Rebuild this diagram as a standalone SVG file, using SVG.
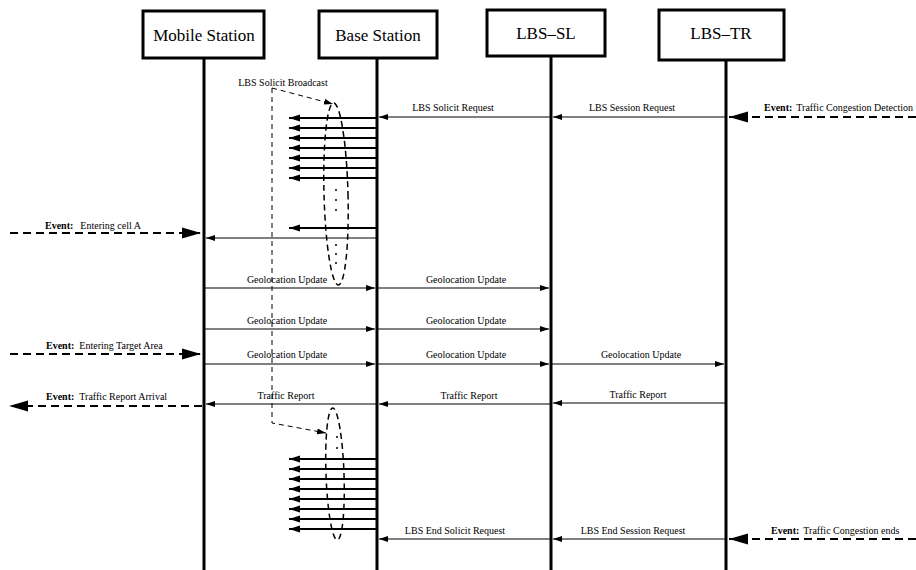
<svg xmlns="http://www.w3.org/2000/svg" width="916" height="570" viewBox="0 0 916 570">
<style>
.box{fill:#fff;stroke:#000;stroke-width:3}
.hdr{font-family:"Liberation Serif","Times New Roman","DejaVu Serif",serif;font-size:17px;text-anchor:middle}
.life{stroke:#000;stroke-width:3}
.msg{stroke:#000;stroke-width:1.2;fill:none}
.bc{stroke:#000;stroke-width:2;fill:none}
.ev{stroke:#000;stroke-width:2;stroke-dasharray:8 5;fill:none}
.cl{stroke:#000;stroke-width:1;stroke-dasharray:5 4;fill:none}
.ell{stroke:#000;stroke-width:1.5;stroke-dasharray:6 4;fill:none}
.lbl{font-family:"Liberation Serif","Times New Roman","DejaVu Serif",serif;font-size:10px;text-anchor:middle}
.evl{font-family:"Liberation Serif","Times New Roman","DejaVu Serif",serif;font-size:10px}
.b{font-weight:bold}
</style>
<defs>
<marker id="sm" markerUnits="userSpaceOnUse" markerWidth="10" markerHeight="8" refX="9" refY="4" orient="auto"><path d="M0,1 L9,4 L0,7 Z" fill="#000"/></marker>
<marker id="bcm" markerUnits="userSpaceOnUse" markerWidth="12" markerHeight="8" refX="11" refY="4" orient="auto"><path d="M0,0.5 L11,4 L0,7.5 Z" fill="#000"/></marker>
<marker id="big" markerUnits="userSpaceOnUse" markerWidth="20" markerHeight="12" refX="19" refY="6" orient="auto"><path d="M0,0.5 L19,6 L0,11.5 Z" fill="#000"/></marker>
</defs>

<g id="mobile-station"><rect class="box" x="143" y="11" width="121" height="47"/><text class="hdr" x="204" y="41">Mobile Station</text><line class="life" x1="204" y1="58" x2="204" y2="570"/></g>
<g id="base-station"><rect class="box" x="319" y="11" width="118" height="47"/><text class="hdr" x="378" y="41">Base Station</text><line class="life" x1="377" y1="58" x2="377" y2="570"/></g>
<g id="lbs-sl"><rect class="box" x="487" y="10" width="118" height="46"/><text class="hdr" x="546" y="39">LBS–SL</text><line class="life" x1="551" y1="56" x2="551" y2="570"/></g>
<g id="lbs-tr"><rect class="box" x="659" y="10" width="125" height="50"/><text class="hdr" x="721" y="39">LBS–TR</text><line class="life" x1="726" y1="60" x2="726" y2="570"/></g>

<g id="connectors">
<line class="msg" x1="726" y1="117" x2="553" y2="117" marker-end="url(#sm)"/>
<text class="lbl" x="632" y="111">LBS Session Request</text>
<line class="msg" x1="551" y1="117" x2="379" y2="117" marker-end="url(#sm)"/>
<text class="lbl" x="453" y="111">LBS Solicit Request</text>
<line class="ev" x1="916" y1="117" x2="729" y2="117" marker-end="url(#big)"/>
<text class="evl" x="764" y="111"><tspan class="b">Event:</tspan><tspan dx="4">Traffic Congestion Detection</tspan></text>

<line class="bc" x1="377" y1="118" x2="289" y2="118" marker-end="url(#bcm)"/>
<line class="bc" x1="377" y1="128" x2="289" y2="128" marker-end="url(#bcm)"/>
<line class="bc" x1="377" y1="138" x2="289" y2="138" marker-end="url(#bcm)"/>
<line class="bc" x1="377" y1="148" x2="289" y2="148" marker-end="url(#bcm)"/>
<line class="bc" x1="377" y1="158" x2="289" y2="158" marker-end="url(#bcm)"/>
<line class="bc" x1="377" y1="168" x2="289" y2="168" marker-end="url(#bcm)"/>
<line class="bc" x1="377" y1="178" x2="289" y2="178" marker-end="url(#bcm)"/>
<line class="bc" x1="377" y1="228" x2="289" y2="228" marker-end="url(#bcm)"/>
<ellipse class="ell" cx="336" cy="194" rx="12" ry="91" transform="rotate(-1.5 336 194)"/>
<circle cx="336" cy="190" r="1" fill="#000"/><circle cx="336" cy="200" r="1" fill="#000"/><circle cx="336" cy="210" r="1" fill="#000"/>
<circle cx="336" cy="245" r="1" fill="#000"/><circle cx="336" cy="254" r="1" fill="#000"/><circle cx="336" cy="263" r="1" fill="#000"/>

<text class="lbl" x="283" y="86">LBS Solicit Broadcast</text>
<line class="cl" x1="272" y1="88" x2="333" y2="104" marker-end="url(#sm)"/>
<polyline class="cl" points="272,88 272,423 326,433" marker-end="url(#sm)"/>

<line class="ev" x1="10" y1="233" x2="201" y2="233" marker-end="url(#big)"/>
<text class="evl" x="45" y="229"><tspan class="b">Event:</tspan><tspan dx="7">Entering cell A</tspan></text>
<line class="msg" x1="377" y1="238" x2="206" y2="238" marker-end="url(#sm)"/>

<line class="msg" x1="204" y1="288" x2="375" y2="288" marker-end="url(#sm)"/>
<text class="lbl" x="287" y="283">Geolocation Update</text>
<line class="msg" x1="377" y1="288" x2="549" y2="288" marker-end="url(#sm)"/>
<text class="lbl" x="466" y="283">Geolocation Update</text>

<line class="msg" x1="204" y1="329" x2="375" y2="329" marker-end="url(#sm)"/>
<text class="lbl" x="287" y="324">Geolocation Update</text>
<line class="msg" x1="377" y1="329" x2="549" y2="329" marker-end="url(#sm)"/>
<text class="lbl" x="466" y="324">Geolocation Update</text>

<line class="ev" x1="10" y1="354" x2="201" y2="354" marker-end="url(#big)"/>
<text class="evl" x="46" y="349"><tspan class="b">Event:</tspan><tspan dx="5">Entering Target Area</tspan></text>
<line class="msg" x1="204" y1="364" x2="375" y2="364" marker-end="url(#sm)"/>
<text class="lbl" x="287" y="358">Geolocation Update</text>
<line class="msg" x1="377" y1="364" x2="549" y2="364" marker-end="url(#sm)"/>
<text class="lbl" x="466" y="358">Geolocation Update</text>
<line class="msg" x1="551" y1="364" x2="724" y2="364" marker-end="url(#sm)"/>
<text class="lbl" x="641" y="358">Geolocation Update</text>

<line class="msg" x1="726" y1="403" x2="553" y2="403" marker-end="url(#sm)"/>
<text class="lbl" x="638" y="398">Traffic Report</text>
<line class="msg" x1="551" y1="404" x2="379" y2="404" marker-end="url(#sm)"/>
<text class="lbl" x="469" y="399">Traffic Report</text>
<line class="msg" x1="377" y1="404" x2="206" y2="404" marker-end="url(#sm)"/>
<text class="lbl" x="286" y="399">Traffic Report</text>
<line class="ev" x1="202" y1="406" x2="9" y2="406" marker-end="url(#big)"/>
<text class="evl" x="46" y="400"><tspan class="b">Event:</tspan><tspan dx="5">Traffic Report Arrival</tspan></text>

<line class="bc" x1="377" y1="459" x2="289" y2="459" marker-end="url(#bcm)"/>
<line class="bc" x1="377" y1="469" x2="289" y2="469" marker-end="url(#bcm)"/>
<line class="bc" x1="377" y1="479" x2="289" y2="479" marker-end="url(#bcm)"/>
<line class="bc" x1="377" y1="489" x2="289" y2="489" marker-end="url(#bcm)"/>
<line class="bc" x1="377" y1="499" x2="289" y2="499" marker-end="url(#bcm)"/>
<line class="bc" x1="377" y1="509" x2="289" y2="509" marker-end="url(#bcm)"/>
<line class="bc" x1="377" y1="519" x2="289" y2="519" marker-end="url(#bcm)"/>
<line class="bc" x1="377" y1="529" x2="289" y2="529" marker-end="url(#bcm)"/>
<ellipse class="ell" cx="335" cy="474" rx="9" ry="66" transform="rotate(-2 335 474)"/>
<circle cx="337" cy="437" r="1" fill="#000"/><circle cx="337" cy="448" r="1" fill="#000"/>

<line class="msg" x1="726" y1="539" x2="553" y2="539" marker-end="url(#sm)"/>
<text class="lbl" x="633" y="534">LBS End Session Request</text>
<line class="msg" x1="551" y1="539" x2="379" y2="539" marker-end="url(#sm)"/>
<text class="lbl" x="455" y="534">LBS End Solicit Request</text>
<line class="ev" x1="916" y1="539" x2="729" y2="539" marker-end="url(#big)"/>
<text class="evl" x="771" y="534"><tspan class="b">Event:</tspan><tspan dx="4">Traffic Congestion ends</tspan></text>
</g>
</svg>
